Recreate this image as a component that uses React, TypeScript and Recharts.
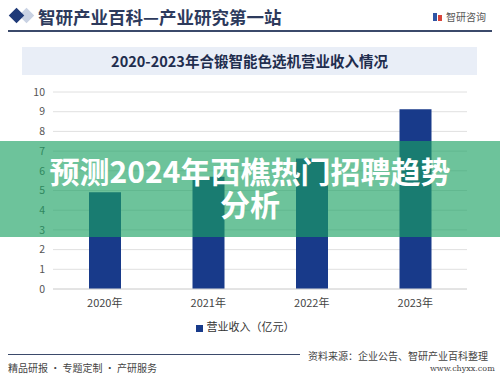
import React from 'react';
import { BarChart, Bar, XAxis, YAxis, CartesianGrid, Legend } from 'recharts';

const categories = ['2020年', '2021年', '2022年', '2023年'];
const revenue = [4.91, 5.7, 6.63, 9.12];
const yTicks = [0, 1, 2, 3, 4, 5, 6, 7, 8, 9, 10];
const seriesName = '营业收入（亿元）';

const data = categories.map((c, i) => ({ name: c, value: revenue[i] }));

const SANS = '"Noto Sans CJK SC", "Noto Sans", sans-serif';

export default function App() {
  return (
    <div style={{ position: 'fixed', left: 0, top: 0, width: 500, height: 379, background: '#fff', overflow: 'hidden', fontFamily: SANS }}>
      {/* header */}
      <div style={{ position: 'absolute', left: 21, top: 10, width: 11, height: 11, background: '#c9d2e3', transform: 'rotate(45deg)' }} />
      <div style={{ position: 'absolute', left: 11, top: 10, width: 11, height: 11, background: '#1f3a78', transform: 'rotate(45deg)' }} />
      <div style={{ position: 'absolute', left: 38, top: 5, fontSize: 17.5, fontWeight: 700, color: '#2d3a5c', whiteSpace: 'nowrap', lineHeight: '24px', fontFamily: '"Noto Sans CJK SC", serif' }}>智研产业百科—产业研究第一站</div>
      <div style={{ position: 'absolute', left: 433, top: 13, width: 4, height: 8, background: '#2f55a4' }} />
      <div style={{ position: 'absolute', left: 438, top: 15, width: 4, height: 6, background: '#d9443a' }} />
      <div style={{ position: 'absolute', left: 446, top: 10, fontSize: 10, color: '#555', whiteSpace: 'nowrap', lineHeight: '14px' }}>智研咨询</div>
      <div style={{ position: 'absolute', left: 8, top: 30, width: 484, height: 1.5, background: '#3b4a6b' }} />

      {/* chart title box */}
      <div style={{ position: 'absolute', left: 22, top: 47, width: 455, height: 28, background: '#e9eef7' }} />
      <div style={{ position: 'absolute', left: 22, top: 47, width: 455, height: 28, lineHeight: '28px', textAlign: 'center', fontSize: 14.5, fontWeight: 700, color: '#1f2d4e', whiteSpace: 'nowrap' }}>2020-2023年合锻智能色选机营业收入情况</div>

      {/* chart */}
      <div style={{ position: 'absolute', left: 0, top: 0 }}>
        <BarChart width={500} height={379} data={data} margin={{ top: 92, right: 33, bottom: 60, left: 21 }} barCategoryGap="0%">
          <CartesianGrid vertical={false} stroke="#e0e0e0" strokeWidth={1} />
          <XAxis dataKey="name" height={30} tickLine={false} axisLine={{ stroke: '#d8d8d8' }} tick={{ fontSize: 11, fill: '#444', fontFamily: SANS }} tickMargin={4} />
          <YAxis domain={[0, 10]} ticks={yTicks} interval={0} width={32} tickLine={false} axisLine={false} tick={{ fontSize: 10.5, fill: '#555', fontFamily: SANS }} tickMargin={2} />
          <Bar dataKey="value" name={seriesName} fill="#183a8a" barSize={32} isAnimationActive={false} />
          <Legend
            verticalAlign="middle"
            align="center"
            iconType="square"
            iconSize={7}
            wrapperStyle={{ top: 318, left: 0, width: 500, fontSize: 11, fontFamily: SANS }}
            formatter={(v: string) => <span style={{ color: '#333' }}>{v}</span>}
          />
        </BarChart>
      </div>

      {/* overlay */}
      <div style={{ position: 'absolute', left: 0, top: 141, width: 500, height: 96, background: 'rgba(27,161,99,0.64)' }} />
      <div style={{ position: 'absolute', left: 48, top: 154, width: 404, height: 32, textAlign: 'center', color: '#fff', fontSize: 30, fontWeight: 700, lineHeight: '32px', whiteSpace: 'nowrap' }}>预测2024年西樵热门招聘趋势</div>
      <div style={{ position: 'absolute', left: 48, top: 187, width: 404, height: 32, textAlign: 'center', color: '#fff', fontSize: 30, fontWeight: 700, lineHeight: '32px', whiteSpace: 'nowrap' }}>分析</div>

      {/* footer */}
      <div style={{ position: 'absolute', left: 8, top: 354, width: 292, height: 1, background: '#3b4a6b' }} />
      <div style={{ position: 'absolute', left: 308, top: 349, fontSize: 10, color: '#444', whiteSpace: 'nowrap', lineHeight: '14px' }}>资料来源：企业公告、智研产业百科整理</div>
      <div style={{ position: 'absolute', left: 8, top: 361, fontSize: 10, color: '#444', whiteSpace: 'nowrap', lineHeight: '14px' }}>精品研报 · 专题定制 · 产研服务</div>
      <div style={{ position: 'absolute', left: 430, top: 363, fontSize: 8, color: '#444', whiteSpace: 'nowrap', lineHeight: '12px', fontFamily: '"DejaVu Serif", serif' }}>www.chyxx.com</div>
    </div>
  );
}
